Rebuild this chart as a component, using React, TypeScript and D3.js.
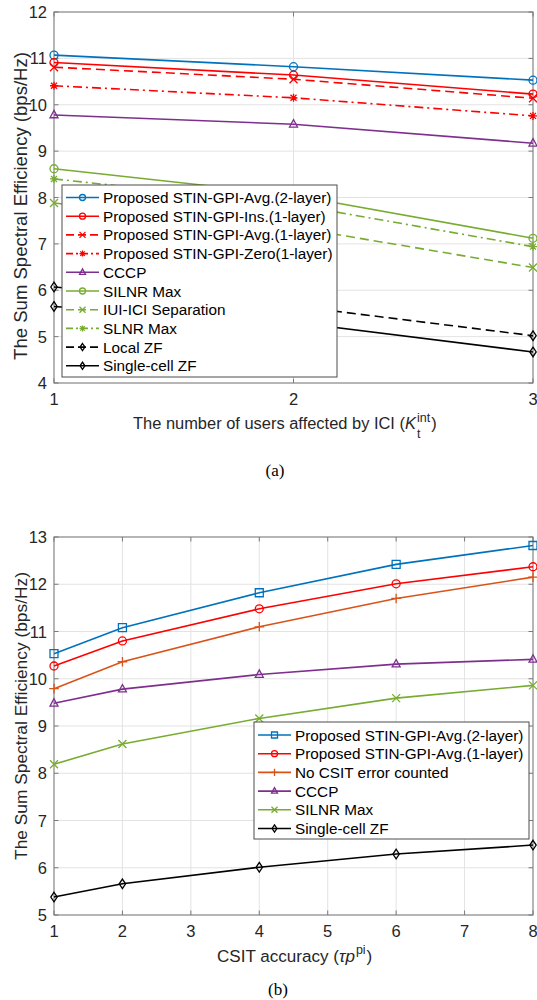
import { useEffect, useRef } from "react";
import * as d3 from "d3";

// ---- panel (a): sum SE vs number of users affected by ICI ----
const iciUsers = [1, 2, 3];
const iciTicksY = [4, 5, 6, 7, 8, 9, 10, 11, 12];
const stinAvg2Layer = [11.07, 10.82, 10.53];
const stinIns1Layer = [10.91, 10.64, 10.23];
const stinAvg1Layer = [10.81, 10.55, 10.14];
const stinZero1Layer = [10.41, 10.15, 9.76];
const cccpA = [9.78, 9.58, 9.17];
const silnrMaxA = [8.62, 8.05, 7.12];
const iuiIciSeparation = [7.88, 7.36, 6.49];
const slnrMax = [8.4, 7.85, 6.94];
const localZf = [6.07, 5.66, 5.02];
const singleCellZfA = [5.65, 5.31, 4.67];

// ---- panel (b): sum SE vs CSIT accuracy ----
const csitAccuracy = [1, 2, 4, 6, 8];
const csitTicksX = [1, 2, 3, 4, 5, 6, 7, 8];
const csitTicksY = [5, 6, 7, 8, 9, 10, 11, 12, 13];
const stinAvg2LayerB = [10.53, 11.08, 11.82, 12.42, 12.82];
const stinAvg1LayerB = [10.27, 10.8, 11.48, 12.01, 12.37];
const noCsitError = [9.79, 10.36, 11.1, 11.7, 12.15];
const cccpB = [9.48, 9.78, 10.09, 10.31, 10.41];
const silnrMaxB = [8.19, 8.62, 9.16, 9.59, 9.86];
const singleCellZfB = [5.38, 5.66, 6.01, 6.29, 6.48];

const FONT = "'Liberation Sans', Arial, Helvetica, sans-serif";
const SERIF = "'Liberation Serif', 'Times New Roman', serif";
const BLUE = "#0072BD";
const RED = "#FF0000";
const PURPLE = "#7E2F8E";
const GREEN = "#77AC30";
const ORANGE = "#D95319";
const BLACK = "#000000";
const DASH = "9,5";
const DASHDOT = "9,4,2,4";

type Series = { name: string; values: number[]; color: string; dash: string | null; marker: string };

const seriesA: Series[] = [
  { name: "Proposed STIN-GPI-Avg.(2-layer)", values: stinAvg2Layer, color: BLUE, dash: null, marker: "circle" },
  { name: "Proposed STIN-GPI-Ins.(1-layer)", values: stinIns1Layer, color: RED, dash: null, marker: "circle" },
  { name: "Proposed STIN-GPI-Avg.(1-layer)", values: stinAvg1Layer, color: RED, dash: DASH, marker: "x" },
  { name: "Proposed STIN-GPI-Zero(1-layer)", values: stinZero1Layer, color: RED, dash: DASHDOT, marker: "star" },
  { name: "CCCP", values: cccpA, color: PURPLE, dash: null, marker: "triangle" },
  { name: "SILNR Max", values: silnrMaxA, color: GREEN, dash: null, marker: "circle" },
  { name: "IUI-ICI Separation", values: iuiIciSeparation, color: GREEN, dash: DASH, marker: "x" },
  { name: "SLNR Max", values: slnrMax, color: GREEN, dash: DASHDOT, marker: "star" },
  { name: "Local ZF", values: localZf, color: BLACK, dash: DASH, marker: "diamond" },
  { name: "Single-cell ZF", values: singleCellZfA, color: BLACK, dash: null, marker: "diamond" },
];

const seriesB: Series[] = [
  { name: "Proposed STIN-GPI-Avg.(2-layer)", values: stinAvg2LayerB, color: BLUE, dash: null, marker: "square" },
  { name: "Proposed STIN-GPI-Avg.(1-layer)", values: stinAvg1LayerB, color: RED, dash: null, marker: "circle" },
  { name: "No CSIT error counted", values: noCsitError, color: ORANGE, dash: null, marker: "plus" },
  { name: "CCCP", values: cccpB, color: PURPLE, dash: null, marker: "triangle" },
  { name: "SILNR Max", values: silnrMaxB, color: GREEN, dash: null, marker: "x" },
  { name: "Single-cell ZF", values: singleCellZfB, color: BLACK, dash: null, marker: "diamond" },
];

function markerPath(type: string, x: number, y: number, s: number): string {
  switch (type) {
    case "square":
      return `M${x - s},${y - s}H${x + s}V${y + s}H${x - s}Z`;
    case "triangle":
      return `M${x},${y - s * 1.15}L${x + s},${y + s * 0.7}H${x - s}Z`;
    case "diamond":
      return `M${x},${y - s * 1.2}L${x + s * 0.8},${y}L${x},${y + s * 1.2}L${x - s * 0.8},${y}Z`;
    case "x":
      return `M${x - s},${y - s}L${x + s},${y + s}M${x - s},${y + s}L${x + s},${y - s}`;
    case "plus":
      return `M${x - s * 1.2},${y}H${x + s * 1.2}M${x},${y - s * 1.2}V${y + s * 1.2}`;
    case "star":
      return (
        `M${x - s},${y}H${x + s}M${x},${y - s}V${y + s}` +
        `M${x - s * 0.75},${y - s * 0.75}L${x + s * 0.75},${y + s * 0.75}M${x - s * 0.75},${y + s * 0.75}L${x + s * 0.75},${y - s * 0.75}`
      );
    default:
      return "";
  }
}

function drawMarker(g: any, type: string, x: number, y: number, color: string, s: number) {
  if (type === "circle") {
    g.append("circle").attr("cx", x).attr("cy", y).attr("r", s)
      .attr("fill", "none").attr("stroke", color).attr("stroke-width", 1.3);
  } else {
    g.append("path").attr("d", markerPath(type, x, y, s))
      .attr("fill", "none").attr("stroke", color).attr("stroke-width", 1.3);
  }
}

// scale a text's font size so it spans the given length
function fitText(sel: any, target: number, base: number) {
  const node = sel.node() as SVGTextElement;
  const w = node.getComputedTextLength();
  const size = w > 0 ? (base * target) / w : base;
  sel.style("font-size", `${size}px`);
  return size;
}

type PanelOpts = {
  xs: number[];
  xDomain: [number, number];
  xTicks: number[];
  yDomain: [number, number];
  yTicks: number[];
  top: number;
  bottom: number;
  series: Series[];
  legend: { x: number; y: number; w: number; h: number; row0: number };
  yLabelLen: number;
  yLabelCenter: number;
};

function drawPanel(svg: any, o: PanelOpts) {
  const left = 54, right = 533;
  const x = d3.scaleLinear().domain(o.xDomain).range([left, right]);
  const y = d3.scaleLinear().domain(o.yDomain).range([o.bottom, o.top]);
  const g = svg.append("g");

  // grid
  g.selectAll(".gx").data(o.xTicks).enter().append("line")
    .attr("x1", (d: number) => x(d)).attr("x2", (d: number) => x(d))
    .attr("y1", o.top).attr("y2", o.bottom)
    .attr("stroke", "#e3e3e3").attr("stroke-width", 1);
  g.selectAll(".gy").data(o.yTicks).enter().append("line")
    .attr("x1", left).attr("x2", right)
    .attr("y1", (d: number) => y(d)).attr("y2", (d: number) => y(d))
    .attr("stroke", "#e3e3e3").attr("stroke-width", 1);

  // box + inward ticks on all sides
  g.append("rect").attr("x", left).attr("y", o.top).attr("width", right - left).attr("height", o.bottom - o.top)
    .attr("fill", "none").attr("stroke", "#7a7a7a").attr("stroke-width", 1);
  const tl = 4.5;
  o.xTicks.forEach((t) => {
    g.append("line").attr("x1", x(t)).attr("x2", x(t)).attr("y1", o.bottom).attr("y2", o.bottom - tl).attr("stroke", "#7a7a7a");
    g.append("line").attr("x1", x(t)).attr("x2", x(t)).attr("y1", o.top).attr("y2", o.top + tl).attr("stroke", "#7a7a7a");
  });
  o.yTicks.forEach((t) => {
    g.append("line").attr("x1", left).attr("x2", left + tl).attr("y1", y(t)).attr("y2", y(t)).attr("stroke", "#7a7a7a");
    g.append("line").attr("x1", right).attr("x2", right - tl).attr("y1", y(t)).attr("y2", y(t)).attr("stroke", "#7a7a7a");
  });

  // tick labels
  g.selectAll(".tx").data(o.xTicks).enter().append("text")
    .attr("x", (d: number) => x(d)).attr("y", o.bottom + 22)
    .attr("text-anchor", "middle").style("font-family", FONT).style("font-size", "16.5px").style("fill", "#262626")
    .text((d: number) => d);
  g.selectAll(".ty").data(o.yTicks).enter().append("text")
    .attr("x", left - 7).attr("y", (d: number) => y(d) + 6)
    .attr("text-anchor", "end").style("font-family", FONT).style("font-size", "16.5px").style("fill", "#262626")
    .text((d: number) => d);

  // y label
  const yl = g.append("text")
    .attr("transform", `translate(27,${o.yLabelCenter}) rotate(-90)`)
    .attr("text-anchor", "middle").style("font-family", FONT).style("font-size", "16px").style("fill", "#262626")
    .text("The Sum Spectral Efficiency (bps/Hz)");
  fitText(yl, o.yLabelLen, 16);

  // lines
  const line = d3.line<number>().x((_d, i) => x(o.xs[i])).y((d) => y(d));
  o.series.forEach((s) => {
    g.append("path").attr("d", line(s.values)).attr("fill", "none")
      .attr("stroke", s.color).attr("stroke-width", 1.6)
      .attr("stroke-dasharray", s.dash ?? null);
    s.values.forEach((v, i) => drawMarker(g, s.marker, x(o.xs[i]), y(v), s.color, 4));
  });

  // legend
  const L = o.legend;
  g.append("rect").attr("x", L.x).attr("y", L.y).attr("width", L.w).attr("height", L.h)
    .attr("fill", "#ffffff").attr("stroke", "#4d4d4d").attr("stroke-width", 1);
  o.series.forEach((s, i) => {
    const ry = L.row0 + i * 18.7;
    g.append("line").attr("x1", L.x + 4).attr("x2", L.x + 37).attr("y1", ry).attr("y2", ry)
      .attr("stroke", s.color).attr("stroke-width", 1.6).attr("stroke-dasharray", s.dash ? (s.dash === DASH ? "8,4" : "7,3,2,3") : null);
    drawMarker(g, s.marker, L.x + 20.5, ry, s.color, 3);
    g.append("text").attr("x", L.x + 41).attr("y", ry + 5.5)
      .style("font-family", FONT).style("font-size", "15.3px").style("fill", "#000")
      .text(s.name);
  });
}

const App = () => {
  const ref = useRef<SVGSVGElement | null>(null);

  useEffect(() => {
    if (!ref.current) return;
    const svg = d3.select(ref.current);
    svg.selectAll("*").remove();

    drawPanel(svg, {
      xs: iciUsers, xDomain: [1, 3], xTicks: iciUsers,
      yDomain: [4, 12], yTicks: iciTicksY, top: 12, bottom: 383,
      series: seriesA,
      legend: { x: 62, y: 185, w: 275, h: 192, row0: 197.5 },
      yLabelLen: 308, yLabelCenter: 206,
    });
    drawPanel(svg, {
      xs: csitAccuracy, xDomain: [1, 8], xTicks: csitTicksX,
      yDomain: [5, 13], yTicks: csitTicksY, top: 537, bottom: 915,
      series: seriesB,
      legend: { x: 254, y: 722, w: 275, h: 117, row0: 735 },
      yLabelLen: 288, yLabelCenter: 716,
    });

    const txt = (x: number, y: number, size: number, family = FONT) =>
      svg.append("text").attr("x", x).attr("y", y).style("font-family", family)
        .style("font-size", `${size}px`).style("fill", "#262626");

    // x label (a): main part, then stacked super/subscript, then ")"
    const la = txt(133, 429, 15.5);
    la.append("tspan").text("The number of users affected by ICI (");
    la.append("tspan").style("font-style", "italic").text("K");
    const sizeA = fitText(la, 283, 15.5);
    const endA = 133 + (la.node() as SVGTextElement).getComputedTextLength();
    const supA = txt(endA + 1, 422, 12.5).text("int");
    txt(endA + 1, 438, 12.5).text("t");
    const wInt = (supA.node() as SVGTextElement).getComputedTextLength();
    txt(endA + 2 + wInt, 429, sizeA).text(")");

    // x label (b)
    const lb = txt(217, 962, 15.5);
    lb.append("tspan").text("CSIT accuracy (");
    lb.append("tspan").style("font-style", "italic").text("τp");
    const sizeB = fitText(lb, 138, 15.5);
    const endB = 217 + (lb.node() as SVGTextElement).getComputedTextLength();
    const supB = txt(endB + 1, 954, 12.5).text("pi");
    const wPi = (supB.node() as SVGTextElement).getComputedTextLength();
    txt(endB + 2 + wPi, 962, sizeB).text(")");

    txt(275, 476, 17, SERIF).attr("text-anchor", "middle").style("fill", "#000").text("(a)");
    txt(278, 995, 17, SERIF).attr("text-anchor", "middle").style("fill", "#000").text("(b)");
  }, []);

  return (
    <svg ref={ref} width={537} height={1000}
      style={{ position: "absolute", left: 0, top: 0, background: "#fff" }} />
  );
};

export default App;
